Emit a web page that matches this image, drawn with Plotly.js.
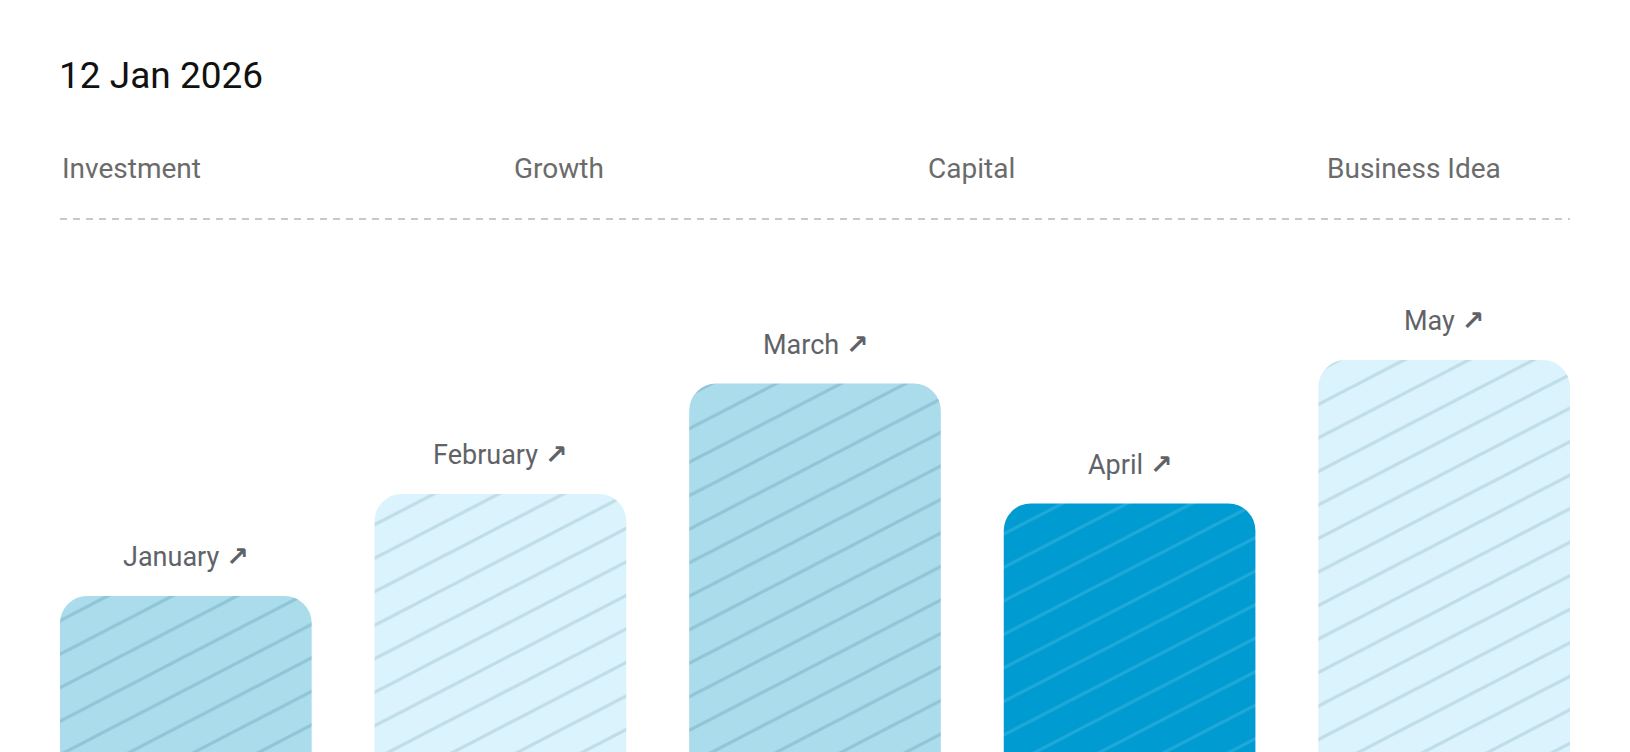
<!DOCTYPE html>
<html>
<head>
<meta charset="utf-8">
<script src="https://cdn.plot.ly/plotly-3.0.1.min.js"></script>
<style>
  html, body { margin: 0; padding: 0; background: #ffffff; }
  #plotDiv { width: 1630px; height: 752px; }
</style>
</head>
<body>
<div id="plotDiv"></div>
<script>
'use strict';

// data (bar heights, bottom of the chart = 0)
const months = ['January', 'February', 'March', 'April', 'May'];
const values = [31.2, 51.6, 73.7, 49.7, 78.4];
const barColors = ['#aadcec', '#dbf3fc', '#aadcec', '#009bd0', '#dbf3fc'];
const stripeColors = ['#90c5d7', '#bfdde7', '#90c5d7', '#1ea9da', '#bfdde7'];

const dateLabel = '12 Jan 2026';
const headers = ['Investment', 'Growth', 'Capital', 'Business Idea'];
const headerX = [0, 0.2995, 0.5735, 0.9555];
const headerAnchor = ['left', 'left', 'left', 'right'];

const font = 'Roboto, "Open Sans", sans-serif';
const arrow = '<span style="font-family:\'DejaVu Sans\';font-weight:bold">↗</span>';

var data = [{
    type: 'bar',
    x: months,
    y: values,
    width: 0.8,
    hoverinfo: 'none',
    marker: {
        cornerradius: 27,
        line: {width: 0},
        // no marker.color array here: it would replace the pattern colours
        pattern: {
            shape: '/',
            fillmode: 'replace',
            size: 23.7,
            solidity: 0.11,
            bgcolor: barColors,
            fgcolor: stripeColors,
            fgopacity: 1
        }
    }
}];

var annotations = [];
for (var i = 0; i < months.length; i++) {
    annotations.push({
        x: months[i], y: values[i],
        xref: 'x', yref: 'y',
        text: months[i] + ' ' + arrow,
        showarrow: false,
        xanchor: 'center', yanchor: 'middle',
        yshift: 39,
        font: {family: font, size: 27, color: '#5f6368'}
    });
}
for (var k = 0; k < headers.length; k++) {
    annotations.push({
        x: headerX[k], y: 1.168,
        xref: 'paper', yref: 'paper',
        text: headers[k],
        showarrow: false,
        xanchor: headerAnchor[k], yanchor: 'middle',
        font: {family: font, size: 28, color: '#6b6b6b'}
    });
}

var layout = {
    width: 1630,
    height: 752,
    paper_bgcolor: '#ffffff',
    plot_bgcolor: '#ffffff',
    showlegend: false,
    margin: {l: 60, r: 60, t: 252, b: 0, pad: 0},
    title: {
        text: dateLabel,
        xref: 'container', yref: 'container',
        x: 59 / 1630, xanchor: 'left',
        y: 1 - 75 / 752, yanchor: 'middle',
        font: {family: font, size: 37, color: '#111111'}
    },
    xaxis: {
        type: 'category',
        range: [-0.4, 4.4],
        showgrid: false, zeroline: false, showline: false,
        showticklabels: false, ticks: '', fixedrange: true
    },
    yaxis: {
        range: [0, 100],
        showgrid: false, zeroline: false, showline: false,
        showticklabels: false, ticks: '', fixedrange: true
    },
    shapes: [{
        type: 'line',
        xref: 'paper', yref: 'paper',
        x0: 0, x1: 1, y0: 1.066, y1: 1.066,
        line: {color: '#c8c8c8', width: 2, dash: '7px,6px'}
    }],
    annotations: annotations
};

Plotly.newPlot('plotDiv', data, layout, {displayModeBar: false, staticPlot: true}).then(function(gd) {
    // stretch the 45 degree stripes so they lie flatter, like the picture
    gd.querySelectorAll('pattern').forEach(function(p) {
        p.setAttribute('patternTransform', 'scale(1.93,1)');
    });
});
</script>
</body>
</html>
